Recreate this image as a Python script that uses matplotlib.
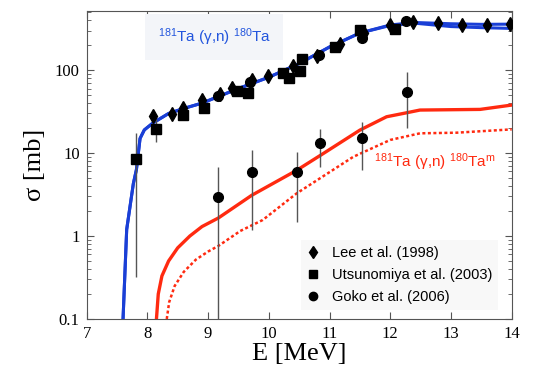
import numpy as np
import matplotlib
matplotlib.use('Agg')
import matplotlib.pyplot as plt
from matplotlib.ticker import LogLocator, FixedLocator, NullFormatter

plt.rcParams['mathtext.default'] = 'regular'

# blue curve 181Ta(g,n)180Ta (two nearly overlapping lines)
blue_E = [7.60, 7.66, 7.77, 7.82, 7.88, 7.95, 8.09, 8.35, 8.6, 8.9, 9.5, 10.0, 10.5, 11.0, 11.5, 12.0, 12.4, 13.0, 13.5, 14.0]
blue_hi = [0.1, 1.2, 4.3, 6.3, 15, 19, 23, 30, 34.5, 40, 60, 82, 120, 190, 280, 350, 375, 362, 356, 358]
blue_lo = [0.1, 1.2, 4.3, 6.3, 15, 19, 23, 30, 34.5, 40, 60, 82, 120, 190, 280, 345, 368, 335, 325, 318]

# red solid / dotted curves 181Ta(g,n)180Ta^m
red_E = [8.15, 8.18, 8.24, 8.35, 8.5, 8.7, 8.9, 9.17, 9.72, 10.46, 10.90, 11.50, 11.94, 12.27, 12.49, 13.48, 14.0]
red_s = [0.1, 0.2, 0.33, 0.5, 0.72, 1.0, 1.3, 1.65, 3.1, 6.2, 9.9, 18.9, 27.4, 30.6, 33, 33.6, 37.9]
dot_E = [8.32, 8.36, 8.45, 8.6, 8.8, 9.0, 9.17, 9.53, 9.9, 10.46, 11.39, 12.0, 12.49, 13.09, 14.0]
dot_s = [0.1, 0.16, 0.25, 0.37, 0.52, 0.65, 0.76, 1.15, 1.56, 3.27, 9.0, 14.4, 17.3, 17.6, 19.3]

# Lee et al. (1998)
lee_E = [8.10, 8.40, 8.59, 8.90, 9.19, 9.39, 9.72, 9.99, 10.40, 10.79, 11.17, 11.56, 12.0, 12.38, 12.79, 13.19, 13.59, 13.98]
lee_s = [27.9, 29.3, 34.5, 43.5, 51, 61, 75.8, 85, 113, 149, 204, 277, 348, 381, 365, 348, 348, 357]

# Utsunomiya et al. (2003)
uts_E = [7.81, 8.15, 8.59, 8.94, 9.47, 9.66, 10.24, 10.33, 10.51, 10.55, 11.09, 11.51, 12.08]
uts_s = [8.6, 19.3, 28.7, 35.2, 56.4, 53.3, 92.9, 81, 97, 138, 190, 304, 309]
uts_lo = [0.32, 13.7, 28.7, 35.2, 56.4, 53.3, 92.9, 81, 97, 138, 190, 304, 309]
uts_hi = [17.3, 26, 28.7, 35.2, 56.4, 53.3, 92.9, 81, 97, 138, 190, 304, 309]

# Goko et al. (2006): isomer points with error bars, plus total points
goko_E = [9.17, 9.72, 10.46, 10.85, 11.53, 12.27]
goko_s = [2.98, 5.96, 5.96, 13.1, 15.0, 54.8]
goko_lo = [0.01, 1.18, 1.48, 6.8, 6.3, 19.8]
goko_hi = [6.8, 10.9, 10.3, 19.3, 23.8, 95]
goko2_E = [9.17, 9.69, 10.82, 11.53, 12.26]
goko2_s = [49, 72, 150, 241, 392]

xticks = [7, 8, 9, 10, 11, 12, 13, 14]
yticks = [0.1, 1, 10, 100]
ytick_labels = ['0.1', '1', '10', '100']

fig = plt.figure(figsize=(5.33, 3.73), dpi=100)
ax = fig.add_axes([0.1625, 0.1448, 0.7975, 0.8265])

frame = '#555555'
ax.plot(blue_E, blue_hi, color='#1a3fd6', lw=2.2, zorder=3)
ax.plot(blue_E, blue_lo, color='#1a3fd6', lw=2.2, zorder=3)
ax.plot(red_E, red_s, color='#ff2a10', lw=2.4, zorder=3)
ax.plot(dot_E, dot_s, color='#ff2a10', lw=1.8, ls=(0, (1.2, 1.0)), zorder=3)

ax.errorbar(uts_E, uts_s,
            yerr=[np.array(uts_s) - np.array(uts_lo), np.array(uts_hi) - np.array(uts_s)],
            fmt='s', color='black', ms=7, ecolor='#555555', elinewidth=1, capsize=0, zorder=4)
ax.errorbar(goko_E, goko_s,
            yerr=[np.array(goko_s) - np.array(goko_lo), np.array(goko_hi) - np.array(goko_s)],
            fmt='o', color='black', ms=7, ecolor='#555555', elinewidth=1, capsize=0, zorder=4)
ax.plot(goko2_E, goko2_s, 'o', color='black', ms=7, zorder=4)
ax.plot(lee_E, lee_s, 'd', color='black', ms=7, zorder=5)

ax.set_yscale('log')
ax.set_xlim(7, 14)
ax.set_ylim(0.1, 520)

ax.xaxis.set_major_locator(FixedLocator(xticks))
ax.set_xticklabels([str(t) for t in xticks], family='Liberation Serif', fontsize=12)
ax.yaxis.set_major_locator(FixedLocator(yticks))
ax.set_yticklabels(ytick_labels, family='Liberation Serif', fontsize=12)
ax.yaxis.set_minor_locator(LogLocator(base=10, subs=np.arange(2, 10)))
ax.yaxis.set_minor_formatter(NullFormatter())
ax.tick_params(which='both', direction='in', top=True, right=True, color=frame)
ax.tick_params(which='major', length=5, pad=5)
ax.tick_params(which='minor', length=3)
for s in ax.spines.values():
    s.set_color(frame)

ax.set_xlabel('E [MeV]', family='Liberation Serif', fontsize=19, labelpad=1)
ax.set_ylabel('σ [mb]', family='Liberation Serif', fontsize=19, labelpad=6)

ax.text(0.30, 0.915, '$^{181}$Ta (γ,n) $^{180}$Ta', transform=ax.transAxes,
        ha='center', va='center', color='#2255dd', fontsize=11, family='Liberation Sans',
        bbox=dict(facecolor='#f3f5f9', edgecolor='none', pad=9), zorder=2)
ax.text(0.82, 0.51, '$^{181}$Ta (γ,n) $^{180}$Ta$^{m}$', transform=ax.transAxes,
        ha='center', va='center', color='#ff2a10', fontsize=11, family='Liberation Sans', zorder=2)

# legend
hl = [plt.Line2D([], [], ls='none', marker='d', color='black', ms=6),
      plt.Line2D([], [], ls='none', marker='s', color='black', ms=6),
      plt.Line2D([], [], ls='none', marker='o', color='black', ms=6)]
ax.legend(hl, ['Lee et al. (1998)', 'Utsunomiya et al. (2003)', 'Goko et al. (2006)'],
          loc='lower right', bbox_to_anchor=(0.985, 0.005), frameon=True, facecolor='#f8f8f8',
          edgecolor='none', framealpha=1, fancybox=False, handlelength=0.8, handletextpad=0.9,
          labelspacing=0.55, prop={'family': 'Liberation Sans', 'size': 10.5})

fig.savefig('out.png', dpi=100)
